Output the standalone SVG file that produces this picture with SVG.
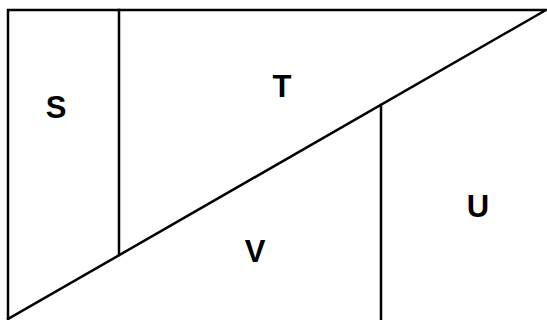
<svg xmlns="http://www.w3.org/2000/svg" width="547" height="320" viewBox="0 0 547 320">
<style>
.ln{stroke:#000;stroke-width:2.5;fill:none;stroke-linecap:square}
.lb{font-family:"Liberation Sans",Arial,sans-serif;font-weight:bold;font-size:31px;fill:#000;text-anchor:middle}
</style>
<rect width="547" height="320" fill="#fff"/>
<g id="outline">
<path class="ln" d="M8,319 L8,10 L546,10 L8,319"/>
<path class="ln" d="M119,10 L119,255"/>
<path class="ln" d="M381,105 L381,320"/>
</g>
<g id="labels">
<text class="lb" x="56" y="118">S</text>
<text class="lb" x="282" y="97">T</text>
<text class="lb" x="255" y="262">V</text>
<text class="lb" x="478" y="217">U</text>
</g>
</svg>
